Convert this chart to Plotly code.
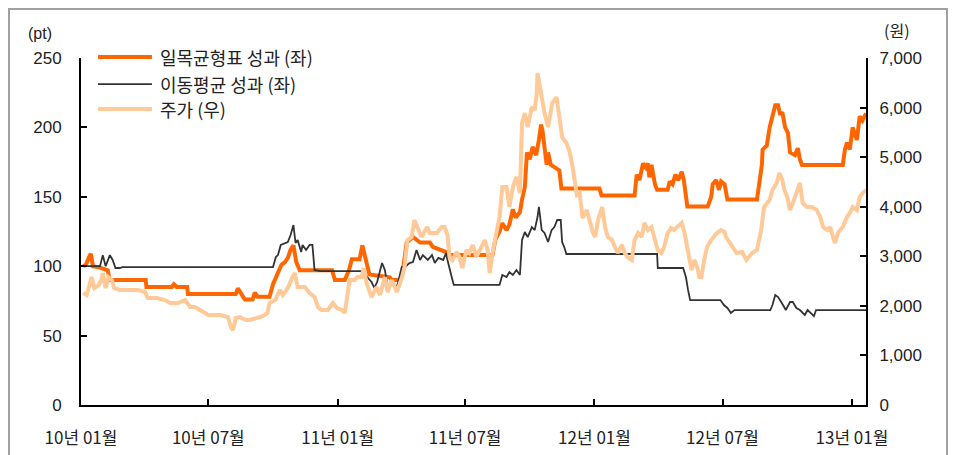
import plotly.graph_objects as go

# ---------------- data ----------------
ichimoku_dates = ["2010-01-04","2010-01-08","2010-01-12","2010-01-15","2010-01-18","2010-01-28","2010-02-08","2010-02-11","2010-04-03","2010-04-04","2010-05-10","2010-05-13","2010-05-17","2010-06-01","2010-06-02","2010-08-09","2010-08-12","2010-08-16","2010-08-22","2010-09-02","2010-09-05","2010-09-09","2010-09-26","2010-10-01","2010-10-08","2010-10-13","2010-10-18","2010-10-22","2010-10-26","2010-10-30","2010-11-03","2010-11-08","2010-12-24","2010-12-28","2011-01-11","2011-01-17","2011-01-21","2011-02-01","2011-02-05","2011-02-10","2011-02-15","2011-03-16","2011-03-19","2011-03-31","2011-04-03","2011-04-09","2011-04-18","2011-04-28","2011-05-12","2011-05-16","2011-06-05","2011-06-06","2011-08-09","2011-08-13","2011-08-19","2011-08-23","2011-08-29","2011-09-02","2011-09-07","2011-09-11","2011-09-17","2011-09-20","2011-09-24","2011-09-27","2011-10-01","2011-10-05","2011-10-10","2011-10-14","2011-10-17","2011-10-19","2011-10-22","2011-10-25","2011-10-27","2011-10-31","2011-11-12","2011-11-15","2012-01-08","2012-01-11","2012-02-27","2012-03-01","2012-03-05","2012-03-10","2012-03-14","2012-03-17","2012-03-19","2012-03-22","2012-03-27","2012-03-30","2012-04-14","2012-04-17","2012-04-21","2012-04-25","2012-04-29","2012-05-04","2012-05-07","2012-05-10","2012-05-12","2012-06-10","2012-06-15","2012-06-17","2012-06-22","2012-06-26","2012-06-29","2012-07-04","2012-07-08","2012-08-19","2012-08-23","2012-08-26","2012-08-27","2012-09-02","2012-09-06","2012-09-10","2012-09-14","2012-09-18","2012-09-21","2012-09-24","2012-09-28","2012-10-02","2012-10-05","2012-10-12","2012-10-16","2012-10-19","2012-10-22","2012-12-19","2012-12-22","2012-12-25","2012-12-29","2013-01-02","2013-01-08","2013-01-12","2013-01-16","2013-01-21"]
ichimoku_vals = [100,101,106,109,100,99,97,90,90,85,85,87,85,85,80,80,84,81,76,76,81,78,78,87,95,101,103,106,112,115,103,97,97,90,90,97,105,105,115,103,94,92,90,90,95,117,121,117,117,114,110,108,108,119,125,131,126,130,141,135,139,148,157,182,177,186,180,191,202,198,184,173,182,173,169,156,156,151,151,166,162,174,171,174,164,173,159,155,155,161,159,166,162,168,162,151,143,143,150,159,162,155,161,159,148,148,162,173,184,187,200,209,216,216,209,211,200,196,182,180,185,177,173,173,184,189,184,200,191,208,205,210]

ma_dates = ["2010-01-04","2010-01-28","2010-02-01","2010-02-05","2010-02-11","2010-02-15","2010-02-19","2010-02-25","2010-03-01","2010-10-01","2010-10-05","2010-10-08","2010-10-12","2010-10-18","2010-10-22","2010-10-26","2010-10-30","2010-11-02","2010-11-05","2010-11-10","2010-11-12","2010-11-17","2010-11-22","2010-11-26","2010-11-29","2010-12-07","2011-02-04","2011-02-08","2011-02-12","2011-02-18","2011-02-22","2011-02-26","2011-03-05","2011-03-09","2011-03-13","2011-03-19","2011-03-23","2011-03-27","2011-04-02","2011-04-08","2011-04-13","2011-04-18","2011-04-23","2011-04-28","2011-05-02","2011-05-09","2011-05-15","2011-05-19","2011-05-24","2011-05-31","2011-06-04","2011-06-06","2011-06-12","2011-06-15","2011-08-19","2011-08-23","2011-08-29","2011-09-02","2011-09-07","2011-09-12","2011-09-17","2011-09-20","2011-09-24","2011-09-28","2011-10-04","2011-10-08","2011-10-12","2011-10-14","2011-10-18","2011-10-22","2011-10-27","2011-11-01","2011-11-05","2011-11-09","2011-11-14","2011-11-16","2011-11-19","2011-11-22","2012-03-30","2012-03-31","2012-05-06","2012-05-10","2012-05-13","2012-05-16","2012-06-28","2012-07-03","2012-07-08","2012-07-13","2012-07-18","2012-09-07","2012-09-10","2012-09-14","2012-09-18","2012-09-21","2012-09-25","2012-09-29","2012-10-05","2012-10-09","2012-10-14","2012-10-19","2012-10-23","2012-10-26","2012-10-30","2012-11-08","2012-11-11","2013-01-21"]
ma_vals = [100,100,108,100,108,104.5,98.7,98.7,99.4,99.4,106.6,108,115.3,116.7,117.4,122.5,129.7,116.7,118.9,110.2,115.3,111.7,115.3,115.3,97.3,96.5,96.5,94.4,92.2,88.6,84.3,88.6,102.3,97.3,85,90,85,86.5,99.4,100,102.3,103,111.7,104.5,108,104.5,108,102.3,106,104.5,109.5,104.5,92.2,86.5,86.5,93.7,92.2,95.8,93.7,97.3,93.7,118.9,124.6,121,128.2,126,135.4,142.7,126,124,117.4,126,128.2,133.3,133.3,117.4,113.8,108.8,108.8,98.7,98.7,92.2,82.9,75.6,75.6,72,69.9,66.3,68.4,68.4,72,79.2,77.8,75.6,72,68.4,74.2,74.2,69.9,68.4,66.3,64.8,68.4,64,68.4,68.4]

price_dates = ["2010-01-04","2010-01-09","2010-01-13","2010-01-16","2010-01-20","2010-01-26","2010-01-30","2010-02-01","2010-02-05","2010-02-09","2010-02-14","2010-02-17","2010-02-25","2010-03-09","2010-03-23","2010-04-02","2010-04-06","2010-04-19","2010-04-30","2010-05-08","2010-05-19","2010-05-29","2010-06-05","2010-06-12","2010-06-19","2010-06-26","2010-07-01","2010-07-10","2010-07-19","2010-07-29","2010-08-02","2010-08-05","2010-08-09","2010-08-15","2010-08-23","2010-08-29","2010-09-08","2010-09-17","2010-09-23","2010-09-26","2010-10-04","2010-10-11","2010-10-15","2010-10-22","2010-10-28","2010-11-01","2010-11-05","2010-11-12","2010-11-15","2010-11-22","2010-11-29","2010-12-04","2010-12-09","2010-12-18","2010-12-25","2010-12-31","2011-01-07","2011-01-11","2011-01-15","2011-01-18","2011-01-25","2011-01-29","2011-02-04","2011-02-07","2011-02-11","2011-02-18","2011-02-25","2011-03-02","2011-03-09","2011-03-13","2011-03-19","2011-03-26","2011-04-02","2011-04-06","2011-04-10","2011-04-16","2011-04-20","2011-04-25","2011-04-30","2011-05-08","2011-05-12","2011-05-22","2011-05-29","2011-06-02","2011-06-06","2011-06-09","2011-06-13","2011-06-19","2011-06-23","2011-06-27","2011-07-03","2011-07-07","2011-07-12","2011-07-17","2011-07-24","2011-07-29","2011-08-02","2011-08-05","2011-08-09","2011-08-15","2011-08-19","2011-08-23","2011-08-29","2011-09-02","2011-09-07","2011-09-12","2011-09-17","2011-09-20","2011-09-24","2011-09-28","2011-10-04","2011-10-08","2011-10-11","2011-10-12","2011-10-15","2011-10-18","2011-10-22","2011-10-27","2011-11-02","2011-11-08","2011-11-12","2011-11-16","2011-11-22","2011-11-26","2011-11-30","2011-12-07","2011-12-11","2011-12-15","2011-12-21","2011-12-26","2011-12-30","2012-01-02","2012-01-06","2012-01-12","2012-01-16","2012-01-20","2012-01-26","2012-01-30","2012-02-03","2012-02-09","2012-02-13","2012-02-17","2012-02-23","2012-02-27","2012-03-03","2012-03-08","2012-03-12","2012-03-17","2012-03-22","2012-03-27","2012-03-31","2012-04-05","2012-04-09","2012-04-14","2012-04-19","2012-04-23","2012-04-28","2012-05-04","2012-05-08","2012-05-12","2012-05-18","2012-05-22","2012-05-26","2012-05-29","2012-06-01","2012-06-05","2012-06-09","2012-06-15","2012-06-19","2012-06-23","2012-06-29","2012-07-04","2012-07-06","2012-07-11","2012-07-21","2012-07-29","2012-08-04","2012-08-12","2012-08-19","2012-08-25","2012-08-29","2012-09-06","2012-09-10","2012-09-16","2012-09-20","2012-09-24","2012-09-27","2012-10-01","2012-10-05","2012-10-09","2012-10-15","2012-10-19","2012-10-23","2012-10-29","2012-11-05","2012-11-12","2012-11-17","2012-11-21","2012-11-27","2012-12-01","2012-12-05","2012-12-08","2012-12-12","2012-12-19","2012-12-25","2012-12-29","2013-01-02","2013-01-08","2013-01-12","2013-01-16","2013-01-21"]
price_vals = [2259,2219,2420,2582,2360,2420,2521,2662,2360,2582,2521,2360,2320,2320,2320,2279,2158,2158,2118,2057,2057,2118,1977,1977,1916,1876,1815,1815,1815,1775,1573,1513,1755,1775,1714,1714,1755,1795,1856,2057,2118,2320,2219,2360,2562,2662,2380,2380,2380,2259,2178,1977,1916,1916,2057,1956,1916,1856,2320,2521,2521,2582,2582,2763,2461,2178,2380,2219,2582,2279,2521,2279,2562,2783,3328,3389,3731,3530,3389,3590,3469,3469,3590,3590,3429,2985,2925,3086,2985,2763,3126,3066,3227,2985,3187,3328,3126,2662,3066,3469,3792,4397,4397,3994,4397,4599,4276,5688,5890,5607,6011,5950,6293,6696,6454,6212,5890,5607,6091,6212,5809,5406,5285,5143,4881,4236,4276,3772,3933,3631,3469,3389,3731,3994,3590,3389,3328,3187,3066,3227,3066,2985,2925,3328,3469,3389,3671,3530,3590,3328,3126,3066,3187,3469,3570,3530,3590,3671,3469,3187,2723,2925,2783,2582,2582,2925,3187,3328,3389,3469,3530,3489,3389,3268,3066,3086,2925,3066,3126,3530,3994,4135,4337,4478,4679,4538,4337,4195,3933,4074,4337,4478,4074,3994,3994,3933,3792,3590,3530,3590,3389,3268,3469,3590,3792,3873,3994,3933,4195,4276,4337]

series_names = ["일목균형표 성과 (좌)", "이동평균 성과 (좌)", "주가 (우)"]
series_colors = ["#FF6600", "#333333", "#FFC998"]
series_widths = [4, 1.8, 4]

x_tickvals = ["2010-01-01","2010-07-01","2011-01-01","2011-07-01","2012-01-01","2012-07-01","2013-01-01"]
x_ticktext = ["10년 01월","10년 07월","11년 01월","11년 07월","12년 01월","12년 07월","13년 01월"]

# ---------------- figure ----------------
fig = go.Figure()
fig.add_trace(go.Scatter(x=ichimoku_dates, y=ichimoku_vals, mode="lines", name=series_names[0],
                         line=dict(color=series_colors[0], width=series_widths[0]), yaxis="y", showlegend=False))
fig.add_trace(go.Scatter(x=ma_dates, y=ma_vals, mode="lines", name=series_names[1],
                         line=dict(color=series_colors[1], width=series_widths[1]), yaxis="y", showlegend=False))
fig.add_trace(go.Scatter(x=price_dates, y=price_vals, mode="lines", name=series_names[2],
                         line=dict(color=series_colors[2], width=series_widths[2]), yaxis="y2", showlegend=False))

num_font = dict(family="Liberation Sans, Noto Sans CJK KR", size=17, color="#222222")
kr_font = dict(family="Noto Sans CJK KR", size=17, color="#222222")

# the page body adds an 8px offset, so the figure starts at (8, 8)
fig.update_layout(
    width=940, height=447,
    margin=dict(l=73, r=82, t=50, b=50, autoexpand=False),
    paper_bgcolor="white", plot_bgcolor="white",
    xaxis=dict(type="date", range=["2010-01-01", "2013-01-21"],
               tickmode="array", tickvals=x_tickvals, ticktext=x_ticktext,
               ticks="inside", ticklen=6, tickwidth=2, tickcolor="black",
               showline=True, linecolor="black", linewidth=2, showgrid=False, zeroline=False,
               tickfont=kr_font, ticklabelstandoff=17, automargin=False),
    yaxis=dict(range=[0, 250], dtick=50, ticks="inside", ticklen=6, tickwidth=2, tickcolor="black",
               showline=True, linecolor="black", linewidth=2, showgrid=False, zeroline=False,
               tickfont=num_font, ticklabelstandoff=14, automargin=False),
    yaxis2=dict(range=[0, 7000], dtick=1000, tickformat=",", overlaying="y", side="right",
                ticks="inside", ticklen=6, tickwidth=2, tickcolor="black",
                showline=True, linecolor="black", linewidth=2, showgrid=False, zeroline=False,
                tickfont=num_font, ticklabelstandoff=8, automargin=False),
    showlegend=False,
)

# axis unit labels
fig.add_annotation(text="(pt)", xref="paper", yref="paper", x=-0.052, y=1.072,
                   xanchor="center", yanchor="middle", showarrow=False,
                   font=dict(family="Liberation Sans, Noto Sans CJK KR", size=16, color="#222222"))
fig.add_annotation(text="(원)", xref="paper", yref="paper", x=1.040, y=1.080,
                   xanchor="center", yanchor="middle", showarrow=False,
                   font=dict(family="Noto Sans CJK KR", size=16, color="#222222"))

# legend (manual)
leg_rows_y = [1.0029, 0.925, 0.853]
for name, color, w, yy in zip(series_names, series_colors, series_widths, leg_rows_y):
    fig.add_shape(type="line", xref="paper", yref="paper", x0=0.0217, x1=0.0904, y0=yy, y1=yy,
                  line=dict(color=color, width=w))
    fig.add_annotation(text=name, xref="paper", yref="paper", x=0.098, y=yy, xanchor="left", yanchor="middle",
                       showarrow=False, font=dict(family="Noto Sans CJK KR", size=18, color="#222222"))

# outer frame
fig.add_shape(type="rect", xref="paper", yref="paper", x0=-0.0917, x1=1.1032, y0=-0.2, y1=1.141,
              line=dict(color="#A0A0A0", width=2), layer="below")

fig.write_html("out.html")
